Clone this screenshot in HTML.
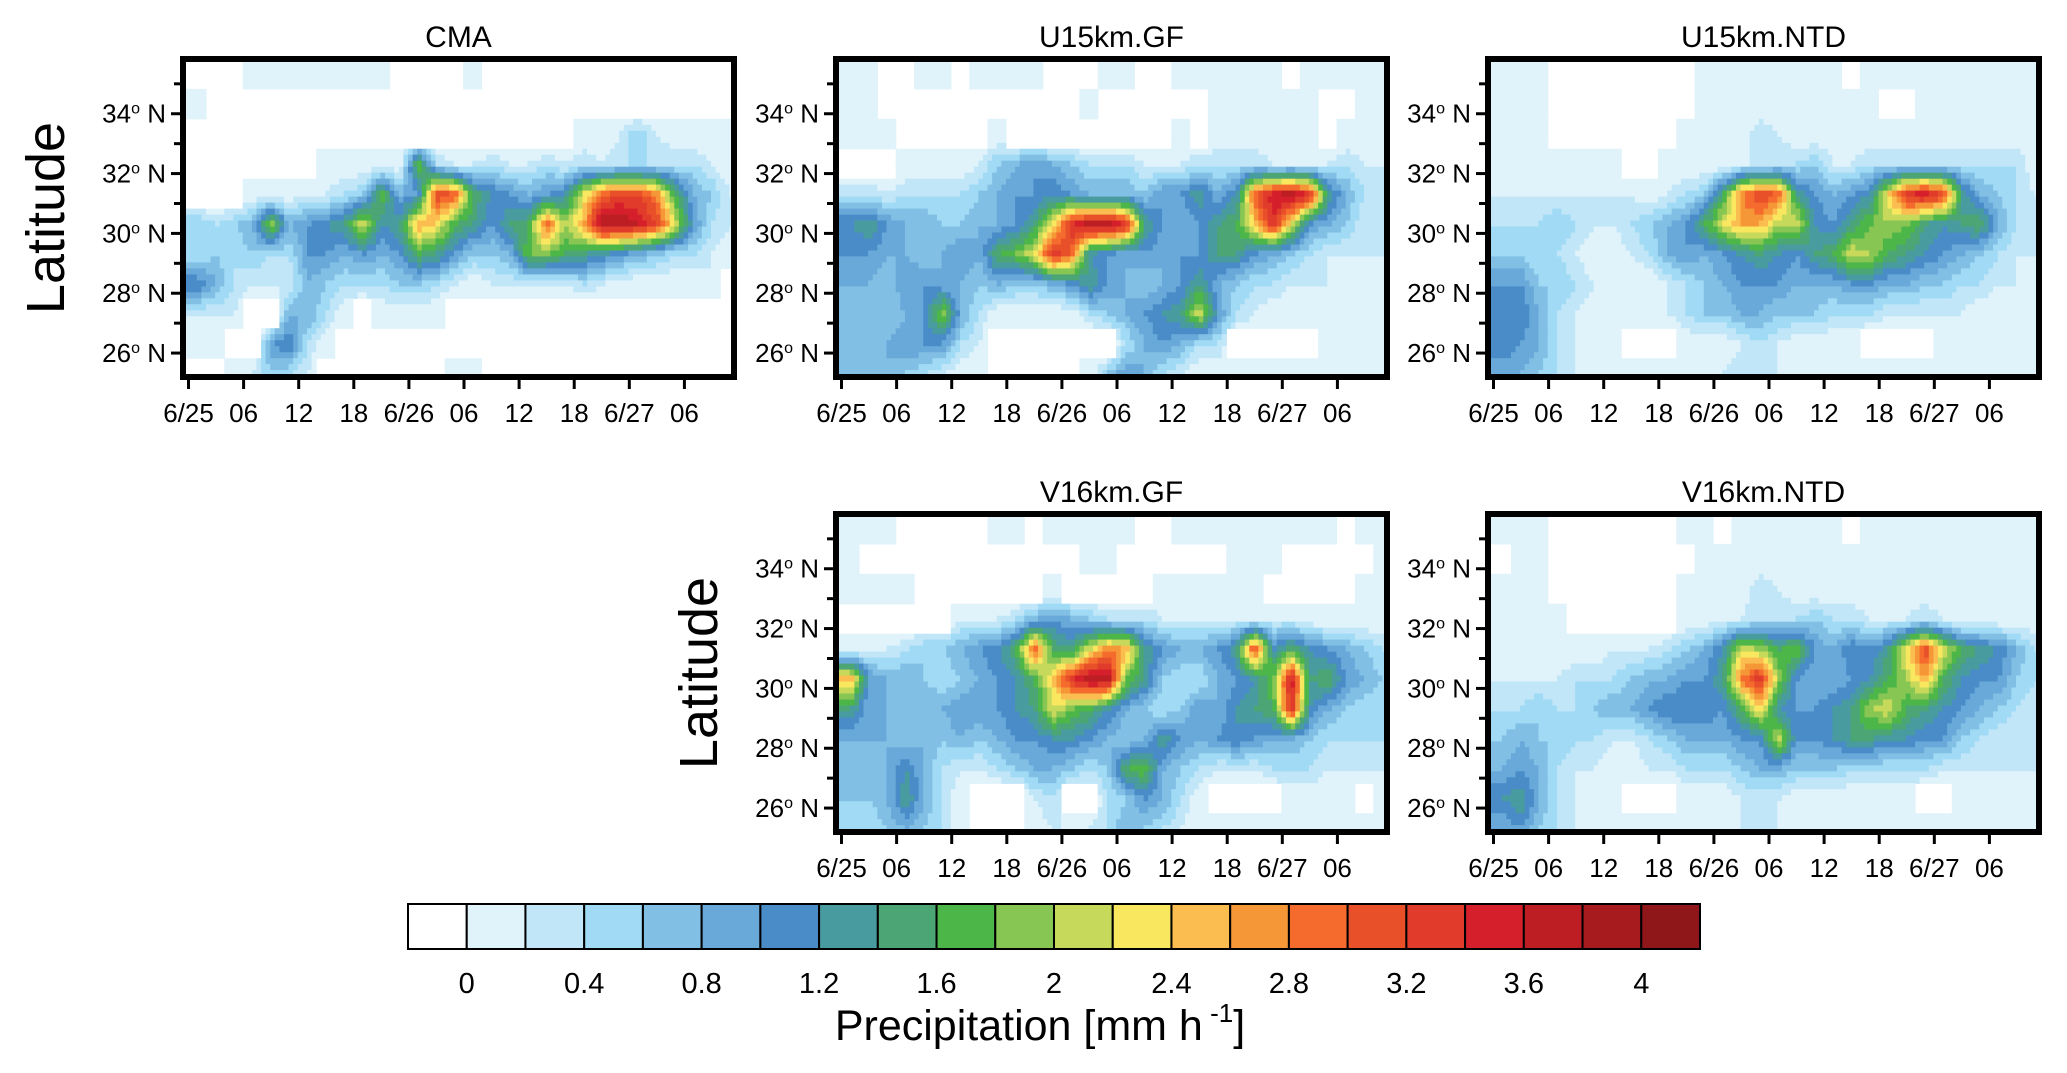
<!DOCTYPE html>
<html><head><meta charset="utf-8">
<style>
html,body{margin:0;padding:0;background:#fff;}
svg{display:block;font-family:"Liberation Sans",Arial,sans-serif;}
</style></head>
<body>
<svg id="fig" width="2067" height="1073" viewBox="0 0 2067 1073" xmlns="http://www.w3.org/2000/svg">
<g id="panels"></g>
<g id="colorbar"></g>
</svg>
<script>
// ---- data ----
const levelColors = ["#ffffff","#e0f3fb","#c0e6f8","#a0daf5","#82bfe5","#68a9da","#4a8cc8","#489b9e","#4ba574","#4cb649","#87c652","#c6d95a","#f9e85f","#fbbd4f","#f59737","#f56a2d","#e8502a","#e03b2b","#d51f2a","#bd1e24","#a71b1f","#8f171a"];
const colorbarLabels = ["0","0.4","0.8","1.2","1.6","2","2.4","2.8","3.2","3.6","4"];
const timeTicks = ["6/25","06","12","18","6/26","06","12","18","6/27","06"];
const latTicks = [26,28,30,32,34];
const rowLats = [35.3,34.3,33.3,32.3,31.3,30.3,29.3,28.3,27.3,26.3,25.3];
// each row: 30 columns of 2-hour bins, level codes 0-9,a-l (0..21)
const gridCMA = [
"0 0 0 1 1 1 1 1 1 1 1 0 0 0 0 1 0 0 0 0 0 0 0 0 0 0 0 0 0 0",
"1 0 0 0 0 0 0 0 0 0 0 0 0 0 0 0 0 0 0 0 0 0 0 0 0 0 0 0 0 0",
"0 0 0 0 0 0 0 0 0 0 0 0 0 0 0 0 0 0 0 0 0 1 1 2 4 2 1 1 1 1",
"0 0 0 0 0 0 0 1 1 1 1 1 a 3 2 2 3 2 2 3 2 3 2 3 3 3 3 3 2 1",
"0 0 0 1 1 1 2 2 3 4 a 5 6 h g 9 7 6 5 6 7 c g h h f 9 5 4 2",
"4 3 4 5 b 5 6 7 8 c 7 8 e d 9 8 6 8 9 g b e k k j h c 6 3 2",
"3 4 3 4 3 3 6 6 5 6 5 6 9 8 6 4 4 5 a a 9 8 7 6 5 4 3 3 2 1",
"7 5 3 2 2 2 5 4 3 3 3 4 4 3 2 1 2 2 2 2 2 3 2 1 1 1 1 1 2 0",
"2 2 2 0 0 5 5 3 1 0 1 1 1 1 0 0 0 0 0 0 0 0 0 0 0 0 0 0 0 0",
"1 1 0 0 6 7 3 1 0 0 0 0 0 0 0 0 0 0 0 0 0 0 0 0 0 0 0 0 0 0",
"0 0 1 2 4 3 2 0 0 0 0 0 0 0 1 1 0 0 0 0 0 0 0 0 0 0 0 0 0 0"];
const gridU15GF = [
"1 1 0 0 1 1 0 1 1 1 1 0 0 0 1 1 0 0 1 1 1 1 1 1 0 1 1 1 1 1",
"1 1 0 0 0 0 0 0 0 0 0 0 0 1 0 0 0 0 0 0 1 1 1 1 1 1 0 0 1 1",
"1 1 1 0 0 0 0 0 1 0 0 0 0 0 0 0 0 0 1 0 1 1 1 1 1 1 0 1 1 1",
"0 0 0 1 1 1 1 2 4 5 6 5 4 3 3 3 2 2 2 3 3 3 3 2 2 2 2 3 2 2",
"3 3 2 3 3 3 3 4 5 6 6 7 6 5 5 5 4 6 6 8 5 7 g j k i 8 5 3 2",
"7 8 6 5 5 4 4 5 5 6 8 c i k k i 8 6 5 6 8 9 d i c 6 5 4 2 2",
"6 6 5 5 4 5 6 5 9 a c i g 7 6 5 6 5 6 6 8 8 6 5 4 3 2 2 2 2",
"5 5 4 6 6 5 5 4 5 4 4 5 6 8 6 5 4 5 6 8 5 4 3 3 2 2 2 1 1 1",
"4 5 4 5 6 b 5 3 1 1 1 1 1 3 4 5 6 7 8 c 6 3 2 1 1 1 1 1 1 1",
"4 5 5 6 6 6 3 2 0 0 0 0 0 0 0 3 5 6 5 3 3 0 0 0 0 0 1 2 1 1",
"4 4 5 4 3 2 1 1 0 0 0 0 0 1 4 6 5 3 2 1 1 1 1 1 1 1 1 1 1 1"];
const gridU15NTD = [
"1 1 1 0 0 0 0 0 0 0 0 1 1 1 1 1 1 1 1 0 1 1 1 1 1 1 1 1 1 1",
"1 1 1 0 0 0 0 0 0 0 0 1 1 1 1 1 1 1 1 1 1 0 0 1 1 1 1 1 1 1",
"1 1 1 0 0 0 0 0 0 0 1 1 1 1 3 2 1 1 1 1 1 1 1 1 1 1 1 1 1 1",
"1 1 1 1 1 1 1 0 0 1 1 1 1 2 2 3 3 4 2 2 3 3 3 3 3 3 3 3 3 1",
"2 2 2 2 2 2 2 2 1 2 3 4 9 f h g 8 6 5 6 7 d i j h 8 5 4 3 2",
"3 3 3 4 3 2 2 3 4 5 6 9 c e e b c 7 6 8 a b a 8 7 8 9 5 3 2",
"4 4 3 3 2 1 1 2 3 5 6 5 6 7 8 7 6 8 9 c b 9 8 7 6 5 4 3 2 2",
"6 6 4 4 3 2 2 1 1 2 3 4 5 6 6 6 5 5 5 6 6 5 5 4 4 3 3 2 2 1",
"6 7 5 3 2 1 1 1 2 2 3 4 4 5 5 4 4 4 3 3 3 2 2 2 2 2 1 1 1 1",
"7 6 5 3 2 1 1 0 0 0 1 1 1 2 3 2 1 1 1 1 0 0 0 0 1 1 1 1 1 1",
"5 5 4 3 2 1 1 1 1 1 1 1 2 3 2 2 1 1 1 1 1 1 1 1 1 1 1 1 1 1"];
const gridV16GF = [
"1 1 1 0 0 0 0 0 1 1 0 1 1 1 1 1 0 0 1 1 1 1 1 1 1 1 1 0 1 1",
"1 0 0 0 0 0 0 0 0 0 0 0 0 1 1 0 0 0 0 0 0 1 1 1 0 0 0 0 0 1",
"1 1 1 1 0 0 0 0 0 0 0 1 0 0 0 0 0 1 1 1 1 1 1 0 0 0 0 0 1 1",
"0 0 0 0 0 0 2 2 2 3 5 6 5 4 3 3 3 2 2 2 2 2 2 2 2 1 1 1 1 1",
"1 2 2 3 4 4 5 6 7 9 g 9 8 c f e 8 6 5 5 6 8 h 7 9 7 6 5 4 3",
"e 6 5 5 4 3 4 5 6 7 9 d i k k a 8 4 3 3 5 6 7 a j 8 9 6 5 4",
"8 5 5 4 5 5 6 6 6 7 8 c a 9 7 5 4 3 4 6 5 7 8 9 i 7 5 4 3 3",
"5 5 5 4 5 4 5 4 5 6 6 7 7 6 5 4 5 8 6 5 6 7 6 5 5 4 3 3 3 3",
"4 4 5 7 5 3 2 2 3 4 5 5 4 3 4 9 a 5 4 3 2 2 2 3 3 3 2 2 2 2",
"4 4 5 8 5 3 1 0 0 0 2 3 0 0 3 4 6 5 3 1 0 0 0 0 1 1 1 2 0 1",
"3 3 4 5 4 3 1 0 0 0 1 2 2 2 3 5 4 3 2 1 1 1 1 1 1 1 1 1 1 1"];
const gridV16NTD = [
"1 1 1 0 0 0 0 0 0 0 1 1 0 1 1 1 1 1 1 0 1 1 1 1 1 1 1 1 1 1",
"0 1 1 0 0 0 0 0 0 0 0 1 1 1 1 1 1 1 1 1 1 1 1 1 1 1 1 1 1 1",
"1 1 1 0 0 0 0 0 0 0 1 1 1 1 3 2 1 1 1 1 1 1 1 1 1 1 1 1 1 1",
"1 1 1 1 0 0 0 0 0 0 1 1 2 2 3 3 3 4 3 3 2 2 2 3 2 1 1 1 1 1",
"1 1 1 1 1 1 2 2 2 3 4 5 7 c b 9 a 6 5 7 6 8 d h c 9 8 7 5 3",
"2 2 2 2 3 3 3 4 5 5 6 6 8 f i b 6 5 5 6 7 9 b e 9 7 6 6 4 3",
"3 3 4 3 3 4 5 5 6 7 7 7 6 9 d 7 6 6 7 8 b c 9 8 7 6 5 4 3 2",
"4 5 4 4 3 3 2 2 3 4 5 5 5 6 6 c 6 6 7 8 8 7 7 6 6 4 3 2 2 2",
"5 6 5 3 2 2 1 1 2 2 3 3 3 4 5 5 4 4 4 3 3 3 3 3 2 2 2 2 2 2",
"7 8 5 3 2 1 1 0 0 0 1 1 1 2 2 2 1 1 1 1 1 1 1 0 0 1 1 1 1 1",
"5 6 4 3 2 1 1 1 1 1 1 1 1 2 2 2 1 1 1 1 1 1 1 1 1 1 1 1 1 1"];

const NS="http://www.w3.org/2000/svg";
function mk(tag, attrs, parent){const e=document.createElementNS(NS,tag);for(const k in attrs)e.setAttribute(k,attrs[k]);if(parent)parent.appendChild(e);return e;}
function parseGrid(g){return g.map(r=>{const t=r.trim().split(/\s+/).map(c=>parseInt(c,36));while(t.length<30)t.push(t[t.length-1]);return t.slice(0,30);});}

const panelsDef=[
 {name:"CMA",grid:gridCMA,x:183,y:59,ylab:true,key:"cma"},
 {name:"U15km.GF",grid:gridU15GF,x:836,y:59,ylab:false,key:"u15km-gf"},
 {name:"U15km.NTD",grid:gridU15NTD,x:1488,y:59,ylab:false,key:"u15km-ntd"},
 {name:"V16km.GF",grid:gridV16GF,x:836,y:514,ylab:true,key:"v16km-gf"},
 {name:"V16km.NTD",grid:gridV16NTD,x:1488,y:514,ylab:false,key:"v16km-ntd"}];
const W=551,H=318,H0=-0.6,H1=59.4,LAT0=25.2,LAT1=35.83;
const root=document.getElementById('panels');

panelsDef.forEach(p=>{
 const g=mk('g',{},root);
 
 
 const xs=h=>p.x+(h-H0)/(H1-H0)*W;
 const ys=l=>p.y+(LAT1-l)/(LAT1-LAT0)*H;
 const vals=parseGrid(p.grid);
 function sample(h,lat){
  let cf=(h-1)/2; cf=Math.max(0,Math.min(29,cf));
  let rf=(rowLats[0]-lat)/1.0; rf=Math.max(0,Math.min(rowLats.length-1,rf));
  const c0=Math.floor(cf),r0=Math.floor(rf),c1=Math.min(29,c0+1),r1=Math.min(rowLats.length-1,r0+1);
  const fc=cf-c0,fr=rf-r0;
  const a=vals[r0][c0],b=vals[r0][c1],c=vals[r1][c0],d=vals[r1][c1];
  const nearest=vals[Math.round(rf)][Math.round(cf)];
  if(nearest===0) return 0;
  const v=(a*(1-fc)+b*fc)*(1-fr)+(c*(1-fc)+d*fc)*fr;
  return Math.max(1,v);
 }
 const field=mk('g',{},g);
 
 
 const dh=0.5,dl=0.2;
 for(let lat=LAT1;lat>LAT0-1e-6;lat-=dl){
  const yTop=ys(lat),yBot=ys(Math.max(LAT0,lat-dl));
  let runStart=H0,runLev=-1;
  for(let h=H0;h<=H1+1e-6;h+=dh){
   const lev=Math.min(21,Math.max(0,Math.floor(sample(h+dh/2,lat-dl/2)+0.001)));
   if(lev!==runLev){
    if(runLev>0){mk('rect',{x:xs(runStart).toFixed(1),y:yTop.toFixed(1),width:(xs(h)-xs(runStart)+0.6).toFixed(1),height:(yBot-yTop+0.6).toFixed(1),fill:levelColors[runLev]},field);}
    runStart=h;runLev=lev;
   }
  }
  if(runLev>0){mk('rect',{x:xs(runStart).toFixed(1),y:yTop.toFixed(1),width:(p.x+W-xs(runStart)).toFixed(1),height:(yBot-yTop+0.6).toFixed(1),fill:levelColors[runLev]},field);}
 }
 const fr=mk('rect',{x:p.x,y:p.y,width:W,height:H,fill:'none',stroke:'#000','stroke-width':6},g);
 
 
 const t=mk('text',{x:p.x+W/2,y:p.y-12,'text-anchor':'middle','font-size':30},g);
 
 
 t.textContent=p.name;
 timeTicks.forEach((lab,i)=>{
  const x=xs(i*6);
  mk('line',{x1:x,y1:p.y+H+3,x2:x,y2:p.y+H+12,stroke:'#000','stroke-width':3},g);
  const tt=mk('text',{x:x,y:p.y+H+45,'text-anchor':'middle','font-size':26},g);
  
  
  tt.textContent=lab;
 });
 for(let l=26;l<=35;l++){
  const y=ys(l);
  mk('line',{x1:p.x-3,y1:y,x2:p.x-(l%2===0?12:9),y2:y,stroke:'#000','stroke-width':3},g);
 }
 latTicks.forEach(l=>{
  const tt=mk('text',{x:p.x-17,y:ys(l)+9,'text-anchor':'end','font-size':26},g);
  
  
  tt.innerHTML=l+'<tspan dy="-9" font-size="16">o</tspan><tspan dy="9"> N</tspan>';
 });
 if(p.ylab){
  const cx=p.x-119,cy=p.y+H/2;
  const yl=mk('text',{x:cx,y:cy,'text-anchor':'middle','font-size':54,transform:`rotate(-90 ${cx} ${cy})`},g);
  
  
  yl.textContent='Latitude';
 }
});

const cb=document.getElementById('colorbar');
const cbX=408,cbY=904,cbW=1292,cbH=45,bw=cbW/levelColors.length;
levelColors.forEach((c,i)=>{
 const r=mk('rect',{x:cbX+i*bw,y:cbY,width:bw,height:cbH,fill:c,stroke:'#000','stroke-width':2},cb);
 
 
});
colorbarLabels.forEach((lab,i)=>{
 const t=mk('text',{x:cbX+(1+2*i)*bw,y:993,'text-anchor':'middle','font-size':29},cb);
 
 
 t.textContent=lab;
});
const ct=mk('text',{x:1040,y:1040,'text-anchor':'middle','font-size':43},cb);


ct.innerHTML='Precipitation [mm h<tspan dy="-18" font-size="26"> -1</tspan><tspan dy="18">]</tspan>';
</script>
</body></html>
